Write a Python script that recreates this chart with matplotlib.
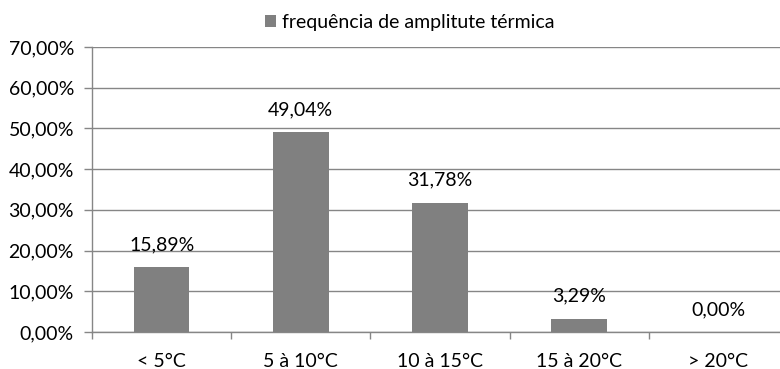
import matplotlib.pyplot as plt
import numpy as np

categories = ["< 5°C", "5 à 10°C", "10 à 15°C", "15 à 20°C", "> 20°C"]
values = [15.89, 49.04, 31.78, 3.29, 0.00]
y_ticks = [0, 10, 20, 30, 40, 50, 60, 70]
series_name = "frequência de amplitute térmica"

plt.rcParams['font.family'] = ['Lato', 'DejaVu Sans']

bar_color = "#808080"
line_color = "#868686"
fs = 14

fig = plt.figure(figsize=(7.8, 3.69), dpi=100)
ax = fig.add_axes([92 / 780, 37 / 369, 696 / 780, 285 / 369])

x = np.arange(len(categories))
bars = ax.bar(x, values, width=0.4, color=bar_color, label=series_name, zorder=3)

# value labels above each bar
for bar, v in zip(bars, values):
    ax.annotate(f"{v:.2f}%".replace(".", ","),
                xy=(bar.get_x() + bar.get_width() / 2, v),
                xytext=(0, 10), textcoords="offset points",
                ha="center", va="bottom", fontsize=fs, color="#000000")

ax.set_xlim(-0.5, len(categories) - 0.5)
ax.set_ylim(0, 70)
ax.set_yticks(y_ticks)
ax.set_yticklabels([f"{t:.2f}%".replace(".", ",") for t in y_ticks], fontsize=fs)

# category labels centred, ticks on category boundaries
ax.set_xticks(x)
ax.set_xticklabels(categories, fontsize=fs)
ax.set_xticks(np.arange(len(categories) + 1) - 0.5, minor=True)
ax.tick_params(axis="x", which="major", length=0, pad=15)
ax.tick_params(axis="x", which="minor", length=5, color=line_color, width=1)
ax.tick_params(axis="y", length=6, color=line_color, width=1, pad=7)

ax.grid(axis="y", color=line_color, linewidth=1, zorder=0)
for side in ["top", "right"]:
    ax.spines[side].set_visible(False)
for side in ["left", "bottom"]:
    ax.spines[side].set_color(line_color)
    ax.spines[side].set_linewidth(1)

fig.legend(loc="upper center", bbox_to_anchor=(0.525, 1.01), frameon=False,
           fontsize=fs, handlelength=0.6, handleheight=0.6, handletextpad=0.3)

fig.savefig("out.png", dpi=100)
